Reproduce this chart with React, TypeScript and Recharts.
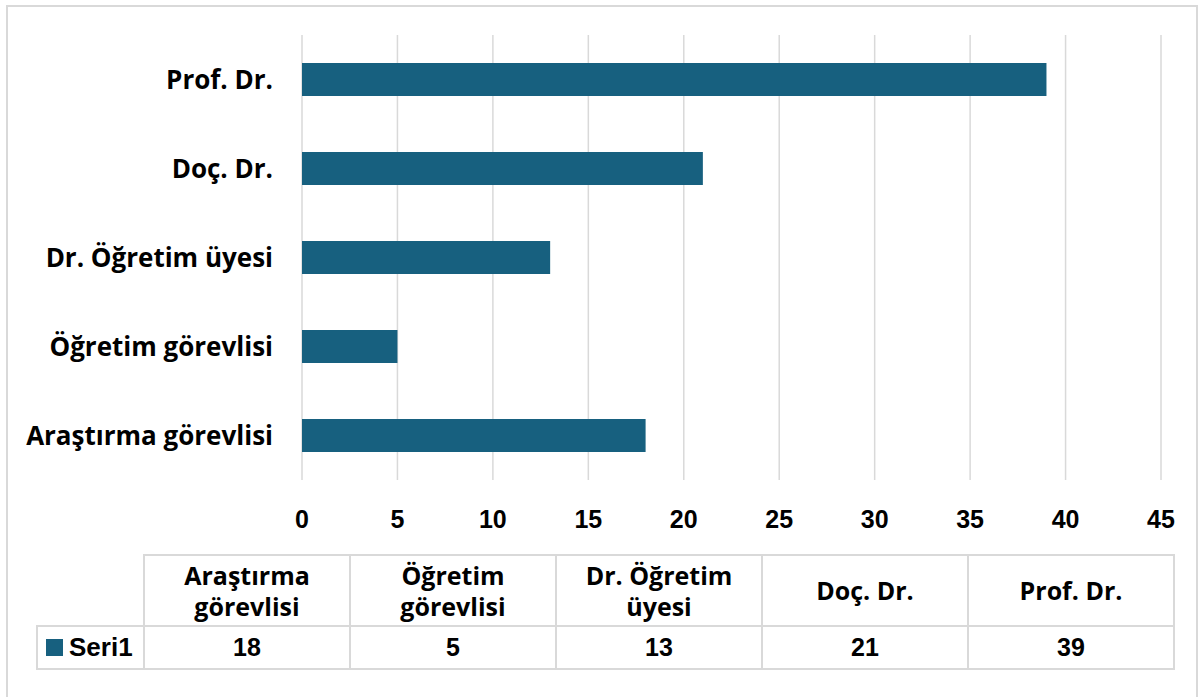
import { Bar, BarChart, CartesianGrid, XAxis, YAxis } from "recharts";

const categories = [
  "Araştırma görevlisi",
  "Öğretim görevlisi",
  "Dr. Öğretim üyesi",
  "Doç. Dr.",
  "Prof. Dr.",
];
const seri1 = [18, 5, 13, 21, 39];
const xTicks = [0, 5, 10, 15, 20, 25, 30, 35, 40, 45];
const tableHeaders = [
  ["Araştırma", "görevlisi"],
  ["Öğretim", "görevlisi"],
  ["Dr. Öğretim", "üyesi"],
  ["Doç. Dr."],
  ["Prof. Dr."],
];

const BAR_COLOR = "#17607f";
const GRID = "#d9d9d9";
const TEXT_FONT = "'Open Sans', sans-serif";
const NUM_FONT = "'Liberation Sans', Arial, sans-serif";

// chart reads bottom-to-top like the Excel original, so reverse for the vertical layout
const data = categories.map((name, i) => ({ name, value: seri1[i] })).reverse();

const cellBorder = `2px solid ${GRID}`;

export default function App() {
  return (
    <div
      style={{
        position: "fixed",
        left: 0,
        top: 0,
        width: 1203,
        height: 697,
        background: "#fff",
        overflow: "hidden",
      }}
    >
      <div
        style={{
          position: "absolute",
          left: 6,
          top: 5,
          width: 1188,
          height: 720,
          border: `2px solid ${GRID}`,
        }}
      />
      <div style={{ position: "absolute", left: 0, top: 0 }}>
        <BarChart
          width={1203}
          height={545}
          data={data}
          layout="vertical"
          margin={{ top: 35, right: 42, bottom: 0, left: 0 }}
          barCategoryGap={28}
        >
          <CartesianGrid vertical horizontal={false} stroke={GRID} strokeWidth={1.5} />
          <XAxis
            type="number"
            domain={[0, 45]}
            ticks={xTicks}
            axisLine={false}
            tickLine={false}
            tickSize={0}
            tickMargin={30}
            height={65}
            interval={0}
            tick={{ fill: "#000", fontSize: 25, fontWeight: 700, fontFamily: NUM_FONT }}
          />
          <YAxis
            type="category"
            dataKey="name"
            width={302}
            axisLine={false}
            tickLine={false}
            tickSize={0}
            tickMargin={29}
            interval={0}
            tick={{ fill: "#000", fontSize: 26, fontWeight: 700, fontFamily: TEXT_FONT }}
          />
          <Bar dataKey="value" fill={BAR_COLOR} isAnimationActive={false} />
        </BarChart>
      </div>
      <table
        style={{
          position: "absolute",
          left: 36,
          top: 554,
          borderCollapse: "collapse",
          tableLayout: "fixed",
          color: "#000",
          fontWeight: 700,
        }}
      >
        <tbody>
          <tr style={{ height: 71 }}>
            <td style={{ width: 106, padding: 0 }} />
            {tableHeaders.map((lines, i) => (
              <td
                key={i}
                style={{
                  width: 204,
                  border: cellBorder,
                  textAlign: "center",
                  fontFamily: TEXT_FONT,
                  fontSize: 25,
                  lineHeight: "31px",
                  padding: 0,
                }}
              >
                {lines.map((l, j) => (
                  <div key={j}>{l}</div>
                ))}
              </td>
            ))}
          </tr>
          <tr style={{ height: 43 }}>
            <td
              style={{
                border: cellBorder,
                fontFamily: NUM_FONT,
                fontSize: 26,
                padding: "0 0 0 8px",
                whiteSpace: "nowrap",
                overflow: "hidden",
              }}
            >
              <span
                style={{
                  display: "inline-block",
                  width: 17,
                  height: 17,
                  background: BAR_COLOR,
                  marginRight: 6,
                  verticalAlign: "0px",
                }}
              />
              Seri1
            </td>
            {seri1.map((v, i) => (
              <td
                key={i}
                style={{
                  border: cellBorder,
                  textAlign: "center",
                  fontFamily: NUM_FONT,
                  fontSize: 25,
                  padding: 0,
                }}
              >
                {v}
              </td>
            ))}
          </tr>
        </tbody>
      </table>
    </div>
  );
}
